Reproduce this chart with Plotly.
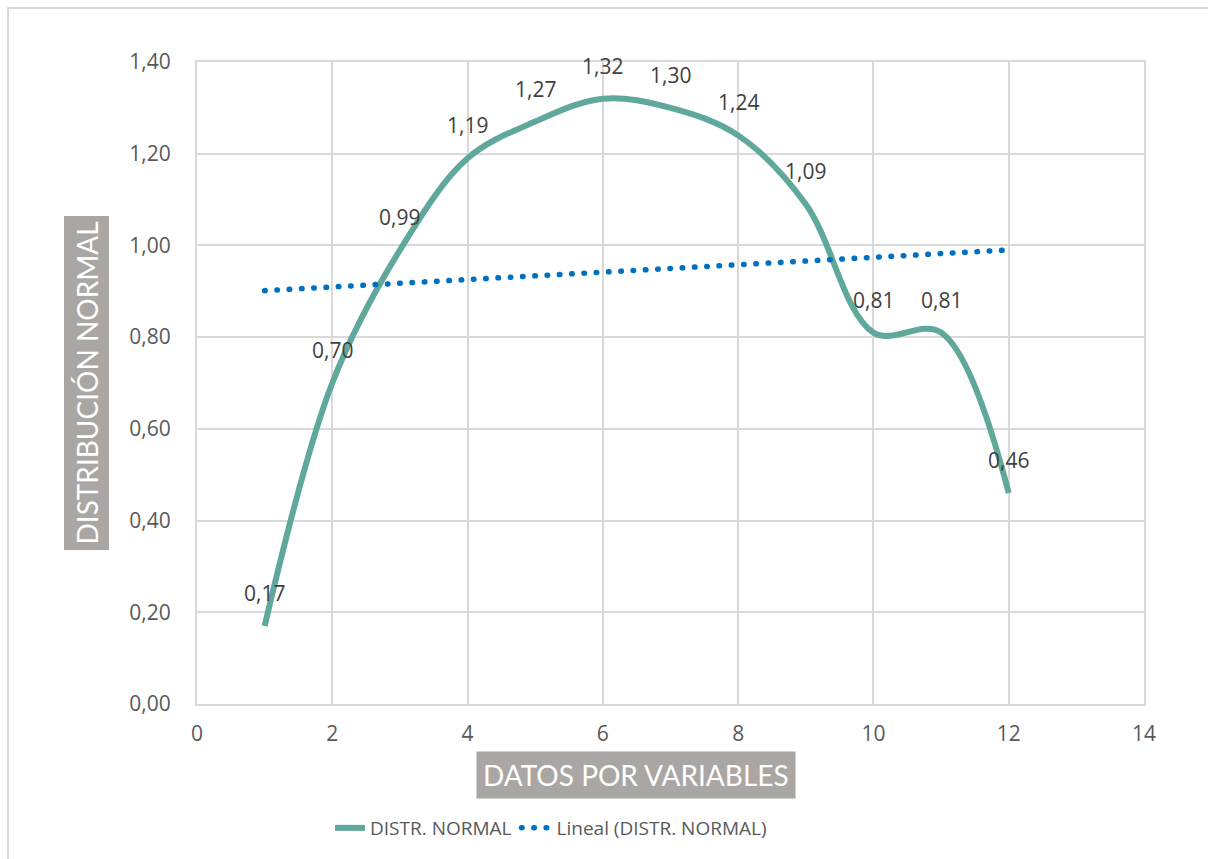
import numpy as np
import plotly.graph_objects as go

# Data
x_vals = [1, 2, 3, 4, 5, 6, 7, 8, 9, 10, 11, 12]
y_vals = [0.17, 0.70, 0.99, 1.19, 1.27, 1.32, 1.30, 1.24, 1.09, 0.81, 0.81, 0.46]
series_name = "DISTR. NORMAL"
trend_name = "Lineal (DISTR. NORMAL)"
x_title = "DATOS POR VARIABLES"
y_title = "DISTRIBUCIÓN NORMAL"
x_ticks = [0, 2, 4, 6, 8, 10, 12, 14]
y_ticks = [0.0, 0.2, 0.4, 0.6, 0.8, 1.0, 1.2, 1.4]

# Linear trend (least squares)
slope, intercept = np.polyfit(x_vals, y_vals, 1)
trend_x = [x_vals[0], x_vals[-1]]
trend_y = [slope * v + intercept for v in trend_x]

W, H = 1208, 859
L, R, T, B = 197, 64, 62, 155
pw, ph = W - L - R, H - T - B

def px(xp):
    return (xp - L) / pw

def py(yp):
    return (H - B - yp) / ph

teal = "#5FA89B"
blue = "#0070C0"
grid = "#D9D9D9"
txt = "#595959"

fig = go.Figure()
fig.add_trace(go.Scatter(
    x=x_vals, y=y_vals, mode="lines", name=series_name,
    line=dict(color=teal, width=6, shape="spline", smoothing=1),
))
fig.add_trace(go.Scatter(
    x=trend_x, y=trend_y, mode="lines", name=trend_name,
    line=dict(color=blue, width=5.5, dash="0.5px,11.8px"),
))

annotations = []
for xv, yv in zip(x_vals, y_vals):
    annotations.append(dict(
        x=xv, y=yv, xref="x", yref="y", text=f"{yv:.2f}".replace(".", ","),
        showarrow=False, yshift=33, font=dict(family="Open Sans", size=21, color="#404040"),
    ))

annotations.append(dict(
    x=px(86), y=py(383.5), xref="paper", yref="paper", text=y_title,
    xanchor="center", yanchor="middle",
    showarrow=False, textangle=-90, bgcolor="#AAA6A4",
    font=dict(family="Lato", size=28, color="white"), borderpad=5,
))
annotations.append(dict(
    x=px(636), y=py(774.5), xref="paper", yref="paper", text=x_title,
    xanchor="center", yanchor="middle",
    showarrow=False, bgcolor="#AAA6A4",
    font=dict(family="Lato", size=28, color="white"), borderpad=6,
))

fig.update_layout(
    width=W, height=H,
    margin=dict(l=L, r=R, t=T, b=B),
    paper_bgcolor="white", plot_bgcolor="white",
    separators=",.",
    font=dict(family="Open Sans", size=21, color=txt),
    showlegend=True,
    legend=dict(orientation="h", x=px(551), xanchor="center", y=py(828), yanchor="middle",
                font=dict(family="Open Sans", size=19, color=txt)),
    annotations=annotations,
    shapes=[dict(type="rect", xref="paper", yref="paper",
                 x0=px(8), y0=py(8), x1=px(1215), y1=py(870),
                 line=dict(color=grid, width=2), layer="below")],
)
fig.update_xaxes(range=[0, 14], tickvals=x_ticks, showgrid=True, gridcolor=grid, gridwidth=2,
                 showline=True, linecolor=grid, linewidth=2, mirror=True, zeroline=False,
                 ticks="", ticklabelstandoff=10, tickfont=dict(size=21, color=txt))
fig.update_yaxes(range=[0, 1.4], tickvals=y_ticks, tickformat=".2f", showgrid=True,
                 gridcolor=grid, gridwidth=2, showline=True, linecolor=grid, linewidth=2,
                 mirror=True, zeroline=False, ticks="", ticklabelstandoff=20,
                 tickfont=dict(size=21, color=txt))

post = """
var gd = document.getElementById('{plot_id}');
function roundDots(){
  document.querySelectorAll('path.js-line').forEach(function(p){
    var d = p.style.strokeDasharray;
    if (d && d !== 'none' && d !== '') { p.style.strokeLinecap = 'round'; }
  });
}
roundDots();
if (gd && gd.on) { gd.on('plotly_afterplot', roundDots); }
"""
fig.write_html("out.html", post_script=post)
